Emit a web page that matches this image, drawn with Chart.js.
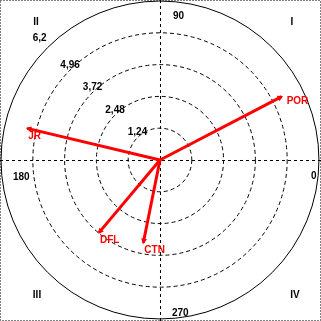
<!DOCTYPE html>
<html>
<head>
<meta charset="utf-8">
<script src="https://cdn.jsdelivr.net/npm/chart.js@4"></script>
<style>
  html, body { margin:0; padding:0; background:#fff; }
  canvas { display:block; }
</style>
</head>
<body>
<canvas id="c" width="321" height="321"></canvas>
<script>
// polar vector plot: rings + vectors (magnitude, angle in degrees)
const ringValues = [1.24, 2.48, 3.72, 4.96, 6.2];
const ringLabels = ['1,24', '2,48', '3,72', '4,96', '6,2'];
const angleLabels = ['0', '90', '180', '270'];
const quadrantLabels = ['I', 'II', 'III', 'IV'];
const vectorNames = ['POR', 'JR', 'DFL', 'CTN'];
const vectorMagnitudes = [5.35, 5.32, 3.70, 3.29];
const vectorAngles = [27.5, 166.6, 230.0, 258.6];

const RED = '#ff0000';
const FONT = 'bold 10px "Liberation Sans", Arial, sans-serif';

const datasets = vectorNames.map((name, i) => {
  const a = vectorAngles[i] * Math.PI / 180;
  const m = vectorMagnitudes[i];
  return {
    label: name,
    data: [{ x: 0, y: 0 }, { x: m * Math.cos(a), y: m * Math.sin(a) }],
    showLine: true,
    borderColor: RED,
    borderWidth: 3,
    pointRadius: 0,
    tension: 0
  };
});

const polarGrid = {
  id: 'polarGrid',
  beforeDatasetsDraw(chart){
    const { ctx, chartArea: ca, scales: { x, y } } = chart;
    const cx = x.getPixelForValue(0), cy = y.getPixelForValue(0);
    ctx.save();
    // border
    ctx.strokeStyle = '#000';
    ctx.lineWidth = 1;
    ctx.setLineDash([1, 2]);
    ctx.strokeRect(0.5, 0.5, chart.width - 1, chart.height - 1);
    // axes
    ctx.setLineDash([3, 3]);
    ctx.beginPath();
    ctx.moveTo(ca.left, cy + 0.5); ctx.lineTo(ca.right, cy + 0.5);
    ctx.moveTo(cx + 0.5, ca.top); ctx.lineTo(cx + 0.5, ca.bottom);
    ctx.stroke();
    // rings
    ringValues.forEach((v, i) => {
      const r = x.getPixelForValue(v) - cx;
      ctx.setLineDash(i === ringValues.length - 1 ? [] : [4, 3]);
      ctx.beginPath();
      ctx.arc(cx, cy, r, 0, Math.PI * 2);
      ctx.stroke();
    });
    ctx.setLineDash([]);
    // ring labels along the upper-left diagonal
    ctx.fillStyle = '#000';
    ctx.font = FONT;
    ctx.textAlign = 'center';
    ctx.textBaseline = 'middle';
    ringValues.forEach((v, i) => {
      const r = x.getPixelForValue(v) - cx;
      const last = i === ringValues.length - 1;
      ctx.fillText(ringLabels[i], cx - r * 0.707 - (last ? 8 : 0), cy - r * 0.707 - (last ? 9 : 5));
    });
    // angle labels
    ctx.textAlign = 'left';
    ctx.fillText(angleLabels[0], ca.right - 10, cy + 16);
    ctx.fillText(angleLabels[1], cx + 13, ca.top + 16);
    ctx.fillText(angleLabels[2], ca.left + 13, cy + 17);
    ctx.fillText(angleLabels[3], cx + 12, ca.bottom - 8);
    // quadrant labels
    ctx.textAlign = 'center';
    ctx.fillText(quadrantLabels[0], ca.right - 29, ca.top + 22);
    ctx.fillText(quadrantLabels[1], ca.left + 36, ca.top + 22);
    ctx.fillText(quadrantLabels[2], ca.left + 37, ca.bottom - 26);
    ctx.fillText(quadrantLabels[3], ca.right - 26, ca.bottom - 26);
    ctx.restore();
  },
  afterDatasetsDraw(chart){
    const { ctx } = chart;
    ctx.save();
    ctx.fillStyle = RED;
    ctx.font = FONT;
    chart.data.datasets.forEach((ds, i) => {
      const pts = chart.getDatasetMeta(i).data;
      const p0 = pts[0], p1 = pts[1];
      const ang = Math.atan2(p1.y - p0.y, p1.x - p0.x);
      // arrow head
      ctx.beginPath();
      ctx.moveTo(p1.x + 1.5 * Math.cos(ang), p1.y + 1.5 * Math.sin(ang));
      ctx.lineTo(p1.x - 4 * Math.cos(ang) + 3 * Math.sin(ang), p1.y - 4 * Math.sin(ang) - 3 * Math.cos(ang));
      ctx.lineTo(p1.x - 4 * Math.cos(ang) - 3 * Math.sin(ang), p1.y - 4 * Math.sin(ang) + 3 * Math.cos(ang));
      ctx.closePath();
      ctx.fill();
      // name
      if (Math.cos(ang) > 0) {
        ctx.textAlign = 'left';
        ctx.textBaseline = 'middle';
        ctx.fillText(ds.label, p1.x + 5, p1.y + 5);
      } else {
        ctx.textAlign = 'left';
        ctx.textBaseline = 'top';
        ctx.fillText(ds.label, p1.x + 1, p1.y + 3);
      }
    });
    ctx.restore();
  }
};

new Chart(document.getElementById('c').getContext('2d'), {
  type: 'scatter',
  data: { datasets },
  options: {
    responsive: false,
    animation: false,
    devicePixelRatio: 1,
    layout: { padding: 0 },
    scales: {
      x: { type: 'linear', min: -6.24, max: 6.28, display: false },
      y: { type: 'linear', min: -6.28, max: 6.24, display: false }
    },
    plugins: { legend: { display: false }, tooltip: { enabled: false } }
  },
  plugins: [polarGrid]
});
</script>
</body>
</html>
